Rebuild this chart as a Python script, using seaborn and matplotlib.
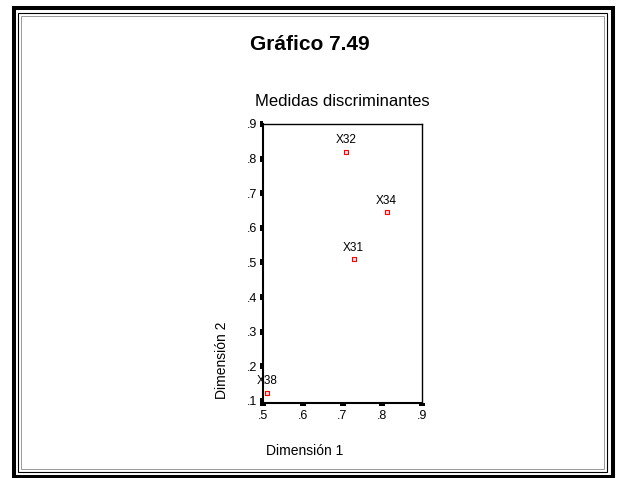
import numpy as np
import pandas as pd
import matplotlib
matplotlib.use("Agg")
import matplotlib.pyplot as plt
import seaborn as sns
from matplotlib.patches import Rectangle

# Data
labels = ["X31", "X32", "X34", "X38"]
dim1 = [0.728, 0.708, 0.811, 0.510]
dim2 = [0.509, 0.819, 0.645, 0.123]
xticks = [0.5, 0.6, 0.7, 0.8, 0.9]
yticks = [0.1, 0.2, 0.3, 0.4, 0.5, 0.6, 0.7, 0.8, 0.9]

df = pd.DataFrame({"label": labels, "dim1": dim1, "dim2": dim2})

sns.set_style("white")
plt.rcParams['font.family'] = ['Liberation Sans', 'DejaVu Sans']
plt.rcParams['text.color'] = 'black'
plt.rcParams['xtick.color'] = 'black'
plt.rcParams['ytick.color'] = 'black'

fig = plt.figure(figsize=(6.2, 4.78), dpi=100)
ax = fig.add_axes([263 / 620, 1 - 403 / 478, (422 - 263) / 620, (403 - 124) / 478])

sns.scatterplot(data=df, x="dim1", y="dim2", marker="s", s=9,
                facecolor="#ffdddd", edgecolor="red", linewidth=0.8, ax=ax)

for _, r in df.iterrows():
    ax.annotate(r["label"], (r["dim1"], r["dim2"]), xytext=(0, 4),
                textcoords="offset points", ha="center", va="bottom", fontsize=8.5)

ax.set_xlim(0.5, 0.9)
ax.set_ylim(0.094, 0.9)
ax.set_xticks(xticks)
ax.set_yticks(yticks)
ax.set_xticklabels(["." + str(int(round(t * 10))) for t in xticks])
ax.set_yticklabels(["." + str(int(round(t * 10))) for t in yticks])
ax.tick_params(axis="both", direction="out", length=2.2, width=4.3, color="black",
               labelcolor="black", labelsize=9, pad=2, left=True, bottom=True)
ax.tick_params(axis="x", pad=3)
ax.set_xlabel("")
ax.set_ylabel("")
for side in ["left", "bottom"]:
    ax.spines[side].set_linewidth(1.5)
    ax.spines[side].set_color("black")
for side in ["top", "right"]:
    ax.spines[side].set_linewidth(1.0)
    ax.spines[side].set_color("black")

# titles and axis labels
fig.text(310 / 620, 1 - 45 / 478, "Gráfico 7.49", ha="center", va="center",
         fontsize=15, fontweight="bold")
fig.text(342 / 620, 1 - 101 / 478, "Medidas discriminantes", ha="center", va="center",
         fontsize=12)
fig.text(305 / 620, 1 - 451 / 478, "Dimensión 1", ha="center", va="center", fontsize=10)
fig.text(222 / 620, 1 - 360 / 478, "Dimensión 2", ha="center", va="center",
         fontsize=10, rotation=90)

# double frame around the figure
W, H = 620, 478
def frame(x0, y0, x1, y1, lw, color):
    fig.patches.append(Rectangle((x0 / W, 1 - y1 / H), (x1 - x0) / W, (y1 - y0) / H,
                                 transform=fig.transFigure, fill=False,
                                 linewidth=lw, edgecolor=color))

frame(14, 8, 613, 477, 2.9, "black")
frame(18, 13, 607, 472, 0.8, "black")
frame(21, 16, 604, 469, 0.7, "#999999")

fig.savefig("out.png", dpi=100)
